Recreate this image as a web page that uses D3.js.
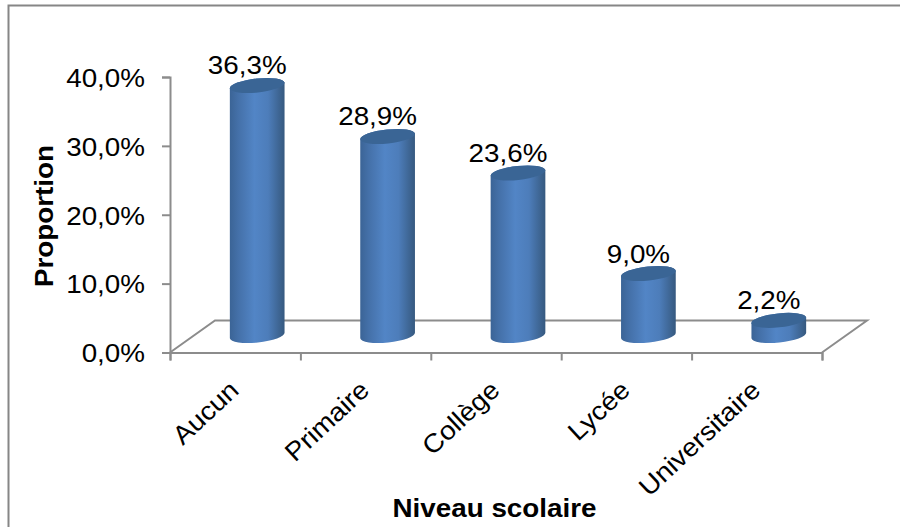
<!DOCTYPE html>
<html>
<head>
<meta charset="utf-8">
<script src="https://cdn.jsdelivr.net/npm/d3@7"></script>
<style>
body { margin: 0; background: #fff; overflow: hidden; }
text { font-family: "Liberation Sans", Arial, sans-serif; fill: #000; font-size: 26px; }
</style>
</head>
<body>
<div id="chart"></div>
<script>
const categories = ["Aucun", "Primaire", "Collège", "Lycée", "Universitaire"];
const values = [36.3, 28.9, 23.6, 9.0, 2.2];
const yTicks = [0, 10, 20, 30, 40];

const width = 900, height = 527;
const plotLeft = 170, plotRight = 822, plotBottom = 352.5, plotTop = 77;
const depthX = 45, depthY = 32;
const baseLift = 17;
const rx = 27.5, ry = 7, tilt = -6;
const axisColor = "#8c8c8c";
const stretch = 1.07;

const comma = (v, n) => v.toFixed(n).replace(".", ",");

const svg = d3.select("#chart").append("svg")
    .attr("width", width).attr("height", height);

const grad = svg.append("defs").append("linearGradient")
    .attr("id", "cyl").attr("x1", "0%").attr("x2", "100%").attr("y1", "0%").attr("y2", "0%");
[["0%", "#3b6496"], ["15%", "#4470a8"], ["45%", "#5285c6"], ["70%", "#4d7dba"], ["100%", "#36597f"]].forEach(s => {
    grad.append("stop").attr("offset", s[0]).attr("stop-color", s[1]);
});

svg.append("rect")
    .attr("x", 8.5).attr("y", 5.5)
    .attr("width", 895).attr("height", 530)
    .attr("fill", "#fff").attr("stroke", "#868686").attr("stroke-width", 2);

const x = d3.scaleBand().domain(categories).range([plotLeft, plotRight]);
const y = d3.scaleLinear().domain([0, 40]).range([plotBottom, plotTop]);

// floor
svg.append("path")
    .attr("d", d3.line()([[plotLeft, plotBottom], [plotLeft + depthX, plotBottom - depthY], [plotRight + depthX, plotBottom - depthY], [plotRight, plotBottom]]))
    .attr("fill", "none").attr("stroke", axisColor).attr("stroke-width", 2);

// axes
const yAxis = d3.axisLeft(y).tickValues(yTicks).tickSize(8).tickFormat(d => comma(d, 1) + "%");
const gy = svg.append("g").attr("transform", `translate(${plotLeft},0)`).call(yAxis);
gy.selectAll("path, line").attr("stroke", axisColor).attr("stroke-width", 2);
gy.selectAll("text")
    .attr("x", 0)
    .attr("transform", `translate(-25,1) scale(${stretch},1)`)
    .style("font-size", "26px")
    .style("font-family", '"Liberation Sans", Arial, sans-serif');

const xEdge = d3.axisBottom(d3.scaleLinear().domain([0, categories.length]).range([plotLeft, plotRight]))
    .tickValues(d3.range(categories.length + 1)).tickSize(8).tickFormat("");
const gx = svg.append("g").attr("transform", `translate(0,${plotBottom})`).call(xEdge);
gx.selectAll("path, line").attr("stroke", axisColor).attr("stroke-width", 2);

// cylinders
const rad = tilt * Math.PI / 180;
function cylPath(cx, yTop, yBase) {
    const dx = rx * Math.cos(rad), dy = rx * Math.sin(rad);
    return `M${cx - dx},${yTop - dy}L${cx - dx},${yBase - dy}` +
        `A${rx},${ry} ${tilt} 0 0 ${cx + dx},${yBase + dy}` +
        `L${cx + dx},${yTop + dy}` +
        `A${rx},${ry} ${tilt} 0 0 ${cx - dx},${yTop - dy}Z`;
}
const cyl = svg.append("g").selectAll("g").data(categories).join("g");
cyl.each(function(c, i) {
    const cx = x(c) + x.bandwidth() / 2 + depthX / 2 - 0.5;
    const yTop = y(values[i]) - baseLift;
    const g = d3.select(this);
    g.append("path").attr("d", cylPath(cx, yTop, plotBottom - baseLift)).attr("fill", "url(#cyl)");
    g.append("ellipse")
        .attr("rx", rx).attr("ry", ry)
        .attr("transform", `translate(${cx},${yTop}) rotate(${tilt})`)
        .attr("fill", "#3a6595");
    g.append("text")
        .attr("transform", `translate(${cx - 10},${yTop - 11}) scale(${stretch},1)`)
        .attr("text-anchor", "middle")
        .text(comma(values[i], 1) + "%");
});

// category labels
svg.append("g").selectAll("text").data(categories).join("text")
    .attr("transform", c => `translate(${x(c) + x.bandwidth() / 2 - 1},${plotBottom + 33}) rotate(-43) scale(${stretch},1)`)
    .attr("text-anchor", "end")
    .attr("dy", "0.35em")
    .text(c => c);

svg.append("text")
    .attr("transform", `translate(44,216) rotate(-90) scale(${stretch},1)`)
    .attr("text-anchor", "middle").attr("dy", "0.35em")
    .style("font-weight", "bold")
    .text("Proportion");

svg.append("text")
    .attr("transform", `translate(494.5,517) scale(${stretch},1)`)
    .attr("text-anchor", "middle")
    .style("font-weight", "bold")
    .text("Niveau scolaire");
</script>
</body>
</html>
